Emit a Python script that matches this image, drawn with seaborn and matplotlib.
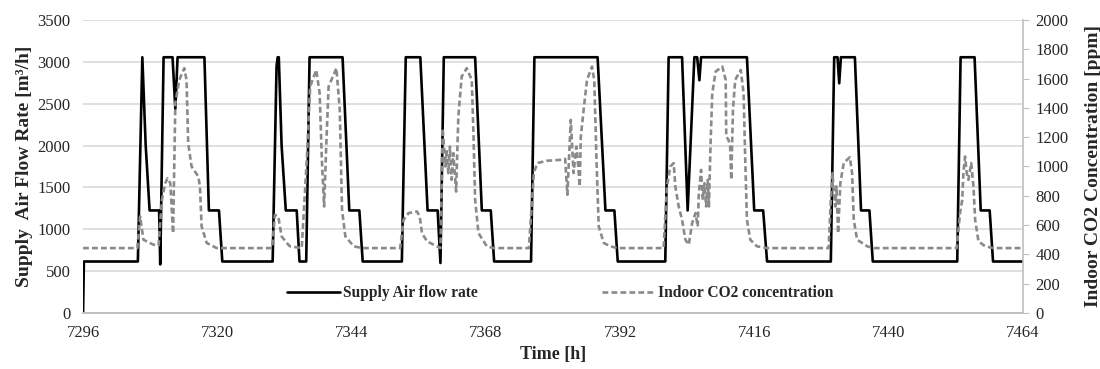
import numpy as np
import pandas as pd
import seaborn as sns
import matplotlib.pyplot as plt
from matplotlib.lines import Line2D

# Supply air flow rate [m3/h] (breakpoints of the hourly series)
flow_time = [7296, 7296.15, 7305.8, 7306.6, 7307.2, 7307.9, 7309.6, 7309.8, 7310.4, 7312.0,
             7312.5, 7312.9, 7317.7, 7318.5, 7320.3, 7320.9,
             7329.9, 7330.6, 7330.8, 7331.0, 7331.5, 7332.25, 7334.2, 7334.7, 7335.9, 7336.5,
             7342.4, 7343.6, 7345.4, 7346.0,
             7353.0, 7353.7, 7356.3, 7357.6, 7359.4, 7359.9, 7360.5, 7366.1, 7367.3, 7368.9, 7369.5,
             7376.1, 7376.7, 7388.0, 7389.4, 7391.0, 7391.6,
             7400.1, 7400.7, 7403.1, 7404.1, 7405.3, 7405.8, 7406.2, 7406.5, 7414.7, 7416.0,
             7417.6, 7418.3,
             7429.7, 7430.3, 7430.9, 7431.2, 7431.5, 7434.0, 7435.1, 7436.6, 7437.2,
             7452.3, 7452.9, 7455.4, 7456.5, 7458.1, 7458.7, 7464]
flow_rate = [0, 615, 615, 3055, 2000, 1225, 1225, 580, 3055, 3055,
             2440, 3055, 3055, 1225, 1225, 615,
             615, 2950, 3055, 3055, 2000, 1225, 1225, 615, 615, 3055,
             3055, 1225, 1225, 615,
             615, 3055, 3055, 1225, 1225, 597, 3055, 3055, 1225, 1225, 615,
             615, 3055, 3055, 1225, 1225, 615,
             615, 3055, 3055, 1225, 3055, 3055, 2780, 3055, 3055, 1225,
             1225, 615,
             615, 3055, 3055, 2744, 3055, 3055, 1225, 1225, 615,
             615, 3055, 3055, 1225, 1225, 615, 615]

# Indoor CO2 concentration [ppm]
co2_time = [7296, 7305.7, 7306.2, 7306.8, 7308.6, 7309.5, 7310.1, 7310.7, 7311.1, 7311.6,
            7312.1, 7312.5, 7313.2, 7314.1, 7314.5, 7314.8, 7315.4, 7316.6, 7316.9, 7317.2,
            7318.1, 7319.9,
            7329.8, 7330.3, 7330.9, 7331.5, 7332.7, 7333.0, 7335.1, 7336.0, 7336.6, 7337.7,
            7338.3, 7338.7, 7339.1, 7339.5, 7339.9, 7341.3, 7341.9, 7342.3, 7342.9, 7344.4,
            7345.9,
            7352.7, 7353.3, 7354.2, 7355.7, 7356.2, 7356.6, 7357.5, 7359.3, 7359.9, 7360.3,
            7360.8, 7361.0, 7361.3, 7361.6, 7361.9, 7362.2, 7362.7, 7363.1, 7363.7, 7364.6,
            7365.5, 7365.8, 7366.1, 7366.7, 7368.2, 7369.4,
            7375.7, 7376.3, 7376.6, 7377.2, 7378.9, 7381.6, 7382.2, 7382.6, 7383.2, 7383.7,
            7384.2, 7384.4, 7384.8, 7385.0, 7385.5, 7386.1, 7387.0, 7387.4, 7387.8, 7388.2,
            7389.1, 7390.3, 7391.5,
            7399.8, 7400.4, 7401.0, 7401.6, 7401.9, 7402.5, 7403.1, 7403.7, 7404.3, 7404.9,
            7405.5, 7405.9, 7406.1, 7406.5, 7406.8, 7407.1, 7407.4, 7407.7, 7407.9, 7408.2,
            7408.5, 7409.1, 7410.3, 7410.9, 7411.0, 7411.4, 7411.7, 7411.9, 7412.2, 7412.6,
            7413.6, 7414.1, 7414.4, 7414.7, 7415.3, 7416.5, 7418.3,
            7429.3, 7429.7, 7430.0, 7430.2, 7430.5, 7430.7, 7431.0, 7431.4, 7432.0, 7433.1,
            7433.5, 7433.8, 7434.4, 7436.2, 7437.4,
            7452.2, 7452.8, 7453.2, 7453.4, 7453.7, 7454.0, 7454.3, 7454.8, 7455.2, 7455.5,
            7456.1, 7457.3, 7458.8, 7464]
co2_ppm = [443, 443, 659, 500, 466, 460, 773, 886, 920, 886,
           545, 1432, 1591, 1671, 1591, 1159, 1000, 932, 864, 591,
           478, 443,
           443, 670, 659, 523, 466, 455, 443, 1045, 1545, 1659,
           1500, 1045, 727, 1159, 1545, 1671, 1386, 705, 523, 455,
           443,
           443, 636, 682, 693, 659, 545, 489, 455, 443, 1261,
           1000, 1114, 955, 1136, 909, 1091, 829, 1341, 1614, 1671,
           1591, 1227, 773, 545, 455, 443,
           443, 773, 955, 1023, 1039, 1046, 1052, 807, 1318, 955,
           1136, 1068, 864, 1205, 1386, 1591, 1682, 1591, 1045, 591,
           478, 455, 443,
           443, 864, 1000, 1023, 864, 727, 636, 500, 466, 614,
           682, 591, 818, 977, 773, 886, 727, 909, 727, 1159,
           1500, 1648, 1682, 1591, 1205, 1182, 1136, 909, 1386, 1591,
           1659, 1500, 1045, 636, 500, 455, 443,
           443, 773, 955, 841, 727, 864, 545, 886, 1023, 1064,
           955, 636, 500, 455, 443,
           443, 682, 773, 955, 1068, 955, 909, 1023, 864, 636,
           489, 455, 443, 443]

x_ticks = [7296, 7320, 7344, 7368, 7392, 7416, 7440, 7464]

flow_df = pd.DataFrame({'Time': flow_time, 'Flow': flow_rate})
co2_df = pd.DataFrame({'Time': co2_time, 'CO2': co2_ppm})

sns.set_style("white")
plt.rcParams['font.family'] = ['Liberation Serif', 'DejaVu Serif']

fig, ax = plt.subplots(figsize=(11, 3.69), dpi=100)
fig.subplots_adjust(left=0.0755, right=0.9297, top=0.9458, bottom=0.1518)
ax2 = ax.twinx()

sns.lineplot(data=flow_df, x='Time', y='Flow', ax=ax, color='black', lw=1.9,
             estimator=None, sort=False)
sns.lineplot(data=co2_df, x='Time', y='CO2', ax=ax2, color='#8a8a8a', lw=1.9,
             estimator=None, sort=False, linestyle=(0, (2.2, 1.2)))

grid_c = '#d9d9d9'
ax.set_xlim(7296, 7464)
ax.set_ylim(0, 3500)
ax.set_yticks(np.arange(0, 3501, 500))
ax.set_xticks(x_ticks)
ax2.set_ylim(0, 2000)
ax2.set_yticks(np.arange(0, 2001, 200))
ax.yaxis.grid(True, color=grid_c, lw=1.2)
ax.xaxis.grid(False)
ax2.grid(False)

for a in (ax, ax2):
    a.spines['top'].set_visible(False)
    a.spines['left'].set_visible(False)
    a.spines['bottom'].set_color('#bfbfbf')
    a.spines['bottom'].set_linewidth(1.2)
ax2.spines['right'].set_color('#bfbfbf')
ax2.spines['right'].set_linewidth(1.2)
ax.spines['right'].set_visible(False)

ax.tick_params(axis='y', length=0, labelsize=12, pad=9)
ax.tick_params(axis='x', length=0, labelsize=12, pad=9)
ax2.tick_params(axis='y', length=4, color='#bfbfbf', labelsize=12, pad=5)

ax.set_xlabel('Time [h]', fontsize=13, fontweight='bold', labelpad=3)
ax.set_ylabel('Supply  Air Flow Rate [m³/h]', fontsize=14, fontweight='bold', labelpad=3)
ax2.set_ylabel('Indoor CO2 Concentration [ppm]', fontsize=14, fontweight='bold', labelpad=12)

handles = [Line2D([], [], color='black', lw=1.9),
           Line2D([], [], color='#8a8a8a', lw=1.9, linestyle=(0, (2.2, 1.2)))]
ax2.legend(handles, ['Supply Air flow rate', 'Indoor CO2 concentration'],
           loc='center', bbox_to_anchor=(0.508, 0.068), ncol=2, frameon=False,
           prop={'weight': 'bold', 'size': 11.2}, handlelength=3.4, handletextpad=0.2,
           columnspacing=8.0)

fig.savefig('out.png', dpi=100)
